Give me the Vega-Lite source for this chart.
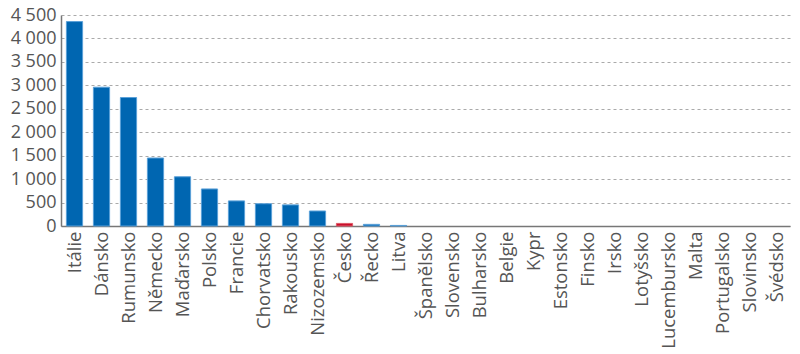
{
  "$schema": "https://vega.github.io/schema/vega-lite/v6.json",
  "autosize": {"type": "none"},
  "width": 729,
  "height": 211,
  "padding": {"left": 61, "top": 15, "right": 10, "bottom": 128},
  "background": "white",
  "data": {"values": [
    {"země": "Itálie", "hodnota": 4360, "cz": "ne"},
    {"země": "Dánsko", "hodnota": 2960, "cz": "ne"},
    {"země": "Rumunsko", "hodnota": 2740, "cz": "ne"},
    {"země": "Německo", "hodnota": 1450, "cz": "ne"},
    {"země": "Maďarsko", "hodnota": 1050, "cz": "ne"},
    {"země": "Polsko", "hodnota": 790, "cz": "ne"},
    {"země": "Francie", "hodnota": 535, "cz": "ne"},
    {"země": "Chorvatsko", "hodnota": 475, "cz": "ne"},
    {"země": "Rakousko", "hodnota": 450, "cz": "ne"},
    {"země": "Nizozemsko", "hodnota": 320, "cz": "ne"},
    {"země": "Česko", "hodnota": 55, "cz": "ano"},
    {"země": "Řecko", "hodnota": 35, "cz": "ne"},
    {"země": "Litva", "hodnota": 12, "cz": "ne"},
    {"země": "Španělsko", "hodnota": 0, "cz": "ne"},
    {"země": "Slovensko", "hodnota": 0, "cz": "ne"},
    {"země": "Bulharsko", "hodnota": 0, "cz": "ne"},
    {"země": "Belgie", "hodnota": 0, "cz": "ne"},
    {"země": "Kypr", "hodnota": 0, "cz": "ne"},
    {"země": "Estonsko", "hodnota": 0, "cz": "ne"},
    {"země": "Finsko", "hodnota": 0, "cz": "ne"},
    {"země": "Irsko", "hodnota": 0, "cz": "ne"},
    {"země": "Lotyšsko", "hodnota": 0, "cz": "ne"},
    {"země": "Lucembursko", "hodnota": 0, "cz": "ne"},
    {"země": "Malta", "hodnota": 0, "cz": "ne"},
    {"země": "Portugalsko", "hodnota": 0, "cz": "ne"},
    {"země": "Slovinsko", "hodnota": 0, "cz": "ne"},
    {"země": "Švédsko", "hodnota": 0, "cz": "ne"}
  ]},
  "config": {
    "view": {"stroke": null},
    "font": "Open Sans"
  },
  "mark": {"type": "bar"},
  "encoding": {
    "x": {
      "field": "země", "type": "nominal", "sort": null,
      "scale": {"paddingInner": 0.4, "paddingOuter": 0.2},
      "axis": {
        "title": null, "labelAngle": -90, "labelAlign": "right", "labelBaseline": "middle",
        "labelFont": "Open Sans", "labelFontSize": 18.5, "labelColor": "#555555",
        "labelPadding": 5, "ticks": false, "domainColor": "#777777", "domainWidth": 1.5
      }
    },
    "y": {
      "field": "hodnota", "type": "quantitative",
      "scale": {"domain": [0, 4500], "nice": false},
      "axis": {
        "title": null, "values": [0, 500, 1000, 1500, 2000, 2500, 3000, 3500, 4000, 4500],
        "labelExpr": "replace(format(datum.value, ','), ',', ' ')",
        "labelFont": "Open Sans", "labelFontSize": 18, "labelColor": "#555555",
        "labelPadding": 5, "ticks": false, "domainColor": "#777777", "domainWidth": 1.5,
        "grid": true, "gridColor": "#aaaaaa", "gridDash": [3, 3], "gridWidth": 1
      }
    },
    "color": {
      "field": "cz", "type": "nominal", "legend": null,
      "scale": {"domain": ["ne", "ano"], "range": ["#0066b1", "#c8102e"]}
    },
    "stroke": {
      "field": "cz", "type": "nominal", "legend": null,
      "scale": {"domain": ["ne", "ano"], "range": ["#5aa0d8", "#e05a66"]}
    },
    "strokeWidth": {"condition": {"test": "datum.hodnota == 0", "value": 0}, "value": 1}
  }
}
